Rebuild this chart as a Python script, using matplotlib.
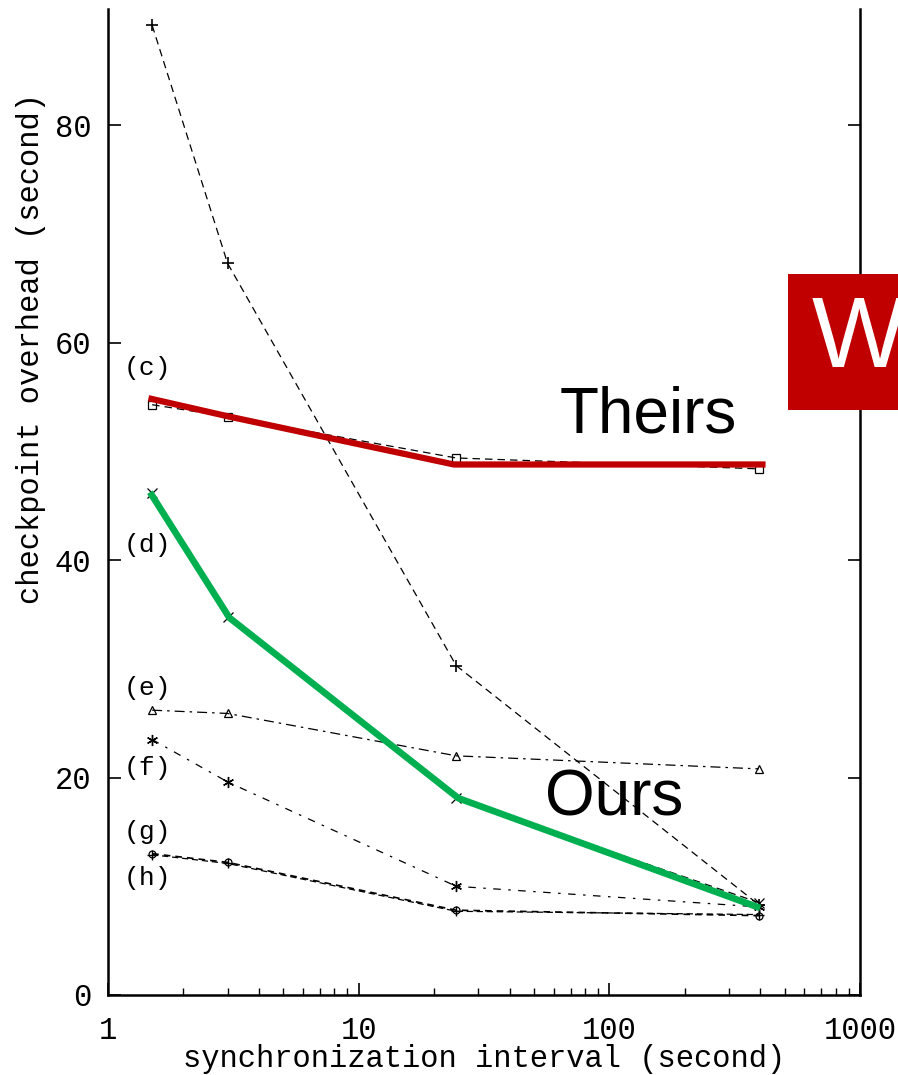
import numpy as np
import matplotlib
matplotlib.use("Agg")
import matplotlib.pyplot as plt
from matplotlib.patches import Rectangle

# synchronization interval (s)
x_pts = [1.5, 3.0, 24.5, 395.0]

# checkpoint overhead (s) per series
ser_top = [89.2, 67.3, 30.3, 8.3]
ser_c = [54.3, 53.2, 49.4, 48.4]
ser_d = [46.2, 34.8, 18.1, 8.5]
ser_e = [26.2, 25.9, 22.0, 20.8]
ser_f = [23.5, 19.6, 10.0, 8.1]
ser_g = [12.9, 12.1, 7.7, 7.4]
ser_h = [13.0, 12.2, 7.8, 7.3]

# highlight overlays
theirs_x = [1.45, 3.05, 24.0, 420.0]
theirs_y = [54.9, 53.2, 48.8, 48.8]
ours_x = [1.47, 3.05, 25.0, 400.0]
ours_y = [46.25, 34.7, 18.1, 8.0]

curve_labels = ["(c)", "(d)", "(e)", "(f)", "(g)", "(h)"]
label_y = [57.7, 41.4, 28.2, 20.9, 15.0, 10.8]

mono = "Liberation Mono"

fig = plt.figure(figsize=(8.98, 10.75), dpi=100)
ax = fig.add_axes([108/898, 1-995/1075, (860-108)/898, (995-9)/1075])

lw = 0.9
ax.plot(x_pts, ser_top, color="black", lw=lw, ls=(0, (6, 4)), marker="+", ms=8, mew=1.2)
ax.plot(x_pts, ser_c, color="black", lw=lw, ls=(0, (6, 4)), marker="s", ms=6, mfc="none", mew=0.9)
ax.plot(x_pts, ser_d, color="black", lw=lw, ls=(0, (6, 4)), marker="x", ms=7, mew=0.9)
ax.plot(x_pts, ser_e, color="black", lw=lw, ls=(0, (8, 4, 2, 4)), marker="^", ms=6, mfc="none", mew=0.9)
ax.plot(x_pts, ser_f, color="black", lw=lw, ls=(0, (6, 6, 2, 6)), marker=(6, 2, 0), ms=8, mew=1.0)
ax.plot(x_pts, ser_g, color="black", lw=lw, ls=(0, (5, 3)), marker="+", ms=7, mew=1.0)
ax.plot(x_pts, ser_h, color="black", lw=1.2, ls=(0, (4, 3)), marker="o", ms=5, mfc="none", mew=0.9)

ax.plot(theirs_x, theirs_y, color="#C00000", lw=4.5, solid_capstyle="butt", zorder=5)
ax.plot(ours_x, ours_y, color="#00B050", lw=4.8, solid_capstyle="butt", zorder=5)

for lab, yy in zip(curve_labels, label_y):
    ax.text(1.44, yy, lab, family=mono, fontsize=19, ha="center", va="center")

ax.text(560/898, 1-432/1075, "Theirs", transform=fig.transFigure, family="Liberation Sans",
        fontsize=46, ha="left", va="baseline")
ax.text(545/898, 1-815/1075, "Ours", transform=fig.transFigure, family="Liberation Sans",
        fontsize=46, ha="left", va="baseline")

ax.set_xscale("log")
ax.set_xlim(1, 1000)
ax.set_ylim(0, 90.7)
ax.set_yticks([0, 20, 40, 60, 80])
ax.set_xticks([1, 10, 100, 1000])
ax.set_xticklabels(["1", "10", "100", "1000"])

ax.spines["top"].set_visible(False)
for s in ["left", "right", "bottom"]:
    ax.spines[s].set_linewidth(1.8)

ax.tick_params(axis="both", which="major", direction="in", length=9, width=1.2,
               labelsize=22, right=True, pad=12)
ax.tick_params(axis="x", which="minor", direction="in", length=5, width=1.0)
ax.tick_params(axis="x", which="major", pad=15)
for t in ax.get_xticklabels() + ax.get_yticklabels():
    t.set_family(mono)

ax.set_xlabel("synchronization interval (second)", family=mono, fontsize=22)
ax.set_ylabel("checkpoint overhead (second)", family=mono, fontsize=22)
ax.xaxis.set_label_coords(0.5, -0.05)
ax.yaxis.set_label_coords(-0.083, 0.656)

fig.patches.append(Rectangle((788/898, 1-410/1075), 0.2, 136/1075, transform=fig.transFigure,
                             facecolor="#C00000", edgecolor="none", zorder=10))
fig.text(812/898, 1-341/1075, "W", color="white", family="Liberation Sans", fontsize=72,
         ha="left", va="center", zorder=11)

fig.savefig("out.png", dpi=100)
